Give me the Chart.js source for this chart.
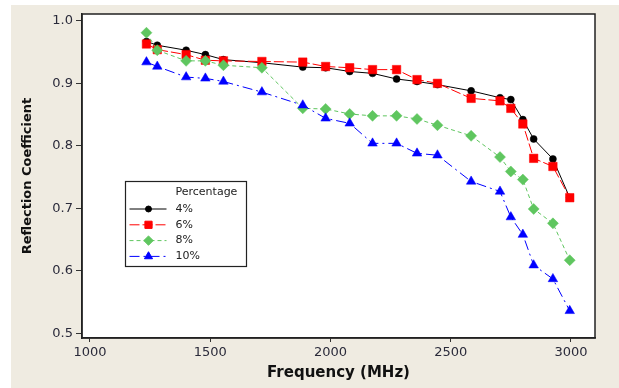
<!DOCTYPE html>
<html><head><meta charset="utf-8">
<script src="https://cdn.jsdelivr.net/npm/chart.js@4.4.1/dist/chart.umd.min.js"></script>
<style>html,body{margin:0;padding:0;background:#fff;}#wrap{width:619px;height:388px;}</style>
</head><body><div id="wrap"><canvas id="c" width="619" height="388"></canvas></div>
<script>
// ---- data ----
const frequencies = [1235,1280,1400,1480,1555,1715,1885,1980,2080,2175,2275,2360,2445,2585,2705,2750,2800,2845,2925,2995];
const pct4  = [0.967,0.961,0.953,0.946,0.938,0.933,0.926,0.925,0.919,0.916,0.907,0.903,0.898,0.888,0.877,0.874,0.842,0.811,0.779,0.717];
const pct6  = [0.963,0.954,0.946,0.937,0.936,0.935,0.934,0.927,0.925,0.922,0.922,0.906,0.900,0.876,0.872,0.860,0.835,0.780,0.767,0.717];
const pct8  = [0.981,0.953,0.936,0.936,0.929,0.925,0.860,0.859,0.851,0.848,0.848,0.843,0.833,0.816,0.782,0.759,0.746,0.699,0.676,0.617];
const pct10 = [0.934,0.927,0.910,0.908,0.903,0.886,0.865,0.844,0.836,0.804,0.804,0.788,0.785,0.743,0.727,0.686,0.658,0.609,0.587,0.536];
const seriesLabels = ['4%','6%','8%','10%'];
const legendTitle = 'Percentage';
const xTitle = 'Frequency (MHz)';
const yTitle = 'Reflection Coefficient';
const xTickValues = [1000,1500,2000,2500,3000];
const yTickValues = [0.5,0.6,0.7,0.8,0.9,1.0];

// ---- styles ----
const styles = [
  {color:'#000000', dash:[], point:'circle', radius:3.5, order:4},
  {color:'#ff0000', dash:[10,3], point:'rect', radius:6, order:3},
  {color:'#5fc65f', dash:[4,3], point:'rectRot', radius:5.5, order:2},
  {color:'#0000ff', dash:[10,4,2,4], point:'triangle', radius:5.5, order:1}
];
const seriesValues = [pct4, pct6, pct8, pct10];

const datasets = seriesValues.map((vals, i) => ({
  label: seriesLabels[i],
  data: frequencies.map((f, j) => ({x: f, y: vals[j]})),
  borderColor: styles[i].color,
  backgroundColor: styles[i].color,
  pointBackgroundColor: styles[i].color,
  pointBorderColor: styles[i].color,
  borderWidth: 1,
  borderDash: styles[i].dash,
  pointStyle: styles[i].point,
  pointRadius: styles[i].radius,
  pointBorderWidth: 0.5,
  tension: 0,
  order: styles[i].order
}));

const bgPlugin = {
  id: 'bg',
  beforeDraw(chart) {
    const {ctx, width, height, chartArea: a} = chart;
    ctx.save();
    ctx.fillStyle = '#ffffff';
    ctx.fillRect(0, 0, width, height);
    ctx.fillStyle = '#efebe1';
    ctx.fillRect(11, 5, width - 11, height - 5);
    ctx.fillStyle = '#ffffff';
    ctx.fillRect(a.left, a.top, a.right - a.left, a.bottom - a.top);
    ctx.restore();
  }
};

const framePlugin = {
  id: 'frame',
  afterDraw(chart) {
    const {ctx, chartArea: a} = chart;
    ctx.save();
    ctx.strokeStyle = '#222';
    ctx.lineWidth = 1.5;
    ctx.strokeRect(a.left, a.top, a.right - a.left, a.bottom - a.top);
    ctx.restore();
  }
};

const legendPlugin = {
  id: 'insideLegend',
  afterDraw(chart) {
    const {ctx, chartArea: a} = chart;
    const bx = a.left + 43.5, by = a.top + 167.5, bw = 121, bh = 85;
    ctx.save();
    ctx.fillStyle = '#fff';
    ctx.fillRect(bx, by, bw, bh);
    ctx.strokeStyle = '#222';
    ctx.lineWidth = 1.2;
    ctx.strokeRect(bx, by, bw, bh);
    ctx.font = '11px "DejaVu Sans", sans-serif';
    ctx.textBaseline = 'middle';
    ctx.textAlign = 'left';
    ctx.fillStyle = '#222';
    ctx.fillText(legendTitle, bx + 50, by + 11);
    chart.data.datasets.forEach((ds, i) => {
      const y = by + 27.5 + i * 15.8;
      ctx.save();
      ctx.strokeStyle = ds.borderColor;
      ctx.lineWidth = 1;
      ctx.setLineDash(ds.borderDash || []);
      ctx.beginPath();
      ctx.moveTo(bx + 4, y);
      ctx.lineTo(bx + 41, y);
      ctx.stroke();
      ctx.setLineDash([]);
      ctx.fillStyle = ds.pointBackgroundColor;
      ctx.strokeStyle = ds.pointBorderColor;
      Chart.helpers.drawPoint(ctx, {pointStyle: ds.pointStyle, rotation: 0, radius: ds.pointRadius * 0.85, borderWidth: 0.5}, bx + 23, y);
      ctx.restore();
      ctx.fillStyle = '#222';
      ctx.fillText(ds.label, bx + 50, y);
    });
    ctx.restore();
  }
};

new Chart(document.getElementById('c'), {
  type: 'line',
  data: {datasets},
  options: {
    responsive: false,
    animation: false,
    devicePixelRatio: 1,
    layout: {padding: {top: 14, right: 24, left: 0, bottom: 0}},
    plugins: {legend: {display: false}, tooltip: {enabled: false}},
    scales: {
      x: {
        type: 'linear',
        min: 967,
        max: 3100,
        afterFit(s) { s.height = 50; },
        afterBuildTicks(s) { s.ticks = xTickValues.map(v => ({value: v})); },
        grid: {display: true, drawOnChartArea: false, drawTicks: true, tickLength: 4, color: '#333'},
        border: {display: true, color: '#222', width: 1.5},
        ticks: {
          color: '#2a2a3a',
          padding: 3,
          maxRotation: 0,
          font: {family: '"DejaVu Sans", sans-serif', size: 13},
          callback: v => String(v)
        },
        title: {
          display: true, text: xTitle, color: '#111',
          font: {family: '"DejaVu Sans", sans-serif', size: 15, weight: 'bold'},
          padding: {top: 0, bottom: 6}
        }
      },
      y: {
        type: 'linear',
        min: 0.4925,
        max: 1.011,
        afterFit(s) { s.width = 82; },
        afterBuildTicks(s) { s.ticks = yTickValues.map(v => ({value: v})); },
        grid: {display: true, drawOnChartArea: false, drawTicks: true, tickLength: 6, color: '#333'},
        border: {display: true, color: '#222', width: 1.5},
        ticks: {
          color: '#2a2a3a',
          padding: 3,
          font: {family: '"DejaVu Sans", sans-serif', size: 13},
          callback: v => Number(v).toFixed(1)
        },
        title: {
          display: true, text: yTitle, color: '#111',
          font: {family: '"DejaVu Sans", sans-serif', size: 13, weight: 'bold'},
          padding: {top: 20, bottom: 0}
        }
      }
    }
  },
  plugins: [bgPlugin, framePlugin, legendPlugin]
});
</script>
</body></html>
